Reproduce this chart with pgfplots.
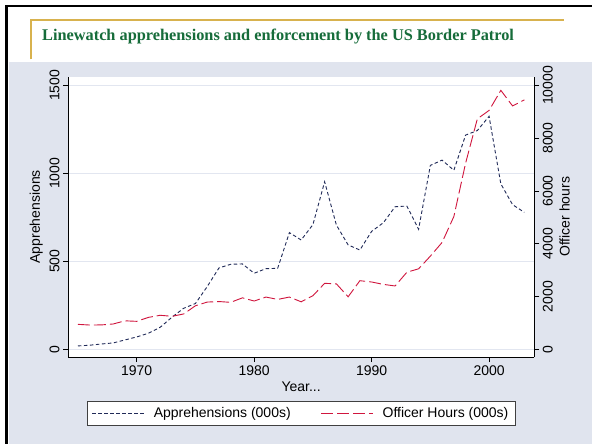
\documentclass[border=0pt]{standalone}
\usepackage{fontspec}
\setmainfont{Liberation Sans}
\newfontfamily\titlefont{Liberation Serif}
\usepackage{pgfplots}
\pgfplotsset{compat=1.18}

\definecolor{bgc}{RGB}{224,228,238}
\definecolor{gridc}{RGB}{226,230,240}
\definecolor{gold}{RGB}{216,178,78}
\definecolor{titlegreen}{RGB}{22,108,58}
\definecolor{navy}{RGB}{32,42,88}
\definecolor{crimson}{RGB}{208,22,62}

\newcommand{\axfont}{\fontsize{14bp}{16bp}\selectfont}

\pgfplotsset{
  twin/.style={
    at={(68bp,-357bp)}, anchor=south west,
    scale only axis, width=466.3bp, height=280.3bp,
    xmin=1964.15, xmax=2003.85,
    tick align=outside, major tick length=5bp,
    tick style={black, line width=0.8bp},
    axis line style={black, line width=0.8bp},
    ticklabel style={font=\axfont},
    label style={font=\axfont},
    scaled ticks=false,
    /pgf/number format/assume math mode=true,
    /pgf/number format/1000 sep={},
  },
}

\begin{document}
\begin{tikzpicture}
% slide frame and title
\path[use as bounding box] (0,0) rectangle (592bp,-444bp);
\fill[white] (0,0) rectangle (592bp,-444bp);
\fill[bgc] (9bp,-62.3bp) rectangle (592bp,-444bp);
\draw[black, line width=2bp] (5bp,-6bp) -- (592bp,-6bp);
\draw[black, line width=3bp] (6.5bp,-5bp) -- (6.5bp,-444bp);
\draw[gold, line width=1.2bp] (31bp,-59.3bp) -- (31bp,-20bp) -- (564bp,-20bp);
\node[anchor=base west, inner sep=0, text=titlegreen,
      font=\titlefont\bfseries\fontsize{16.3bp}{18bp}\selectfont]
  at (42bp,-40.7bp) {Linewatch apprehensions and enforcement by the US Border Patrol};

% left axis: apprehensions
\begin{axis}[twin,
  ymin=-44, ymax=1549,
  axis x line*=bottom, axis y line*=left,
  axis background/.style={fill=white},
  xtick={1970,1980,1990,2000},
  ytick={0,500,1000,1500},
  ymajorgrids, grid style={gridc, line width=0.9bp},
  yticklabel style={rotate=90, anchor=south},
  xlabel={Year...},
  ylabel={Apprehensions},
]
\addplot[navy, line width=0.9bp, dash pattern=on 3.5bp off 2.5bp] table {
x y
1965 19
1966 23
1967 30
1968 36
1969 53
1970 70
1971 91
1972 125
1973 182
1974 233
1975 260
1976 356
1977 462
1978 483
1979 485
1980 432
1981 458
1982 460
1983 663
1984 621
1985 708
1986 952
1987 706
1988 593
1989 564
1990 670
1991 719
1992 810
1993 814
1994 682
1995 1045
1996 1075
1997 1017
1998 1217
1999 1243
2000 1324
2001 940
2002 822
2003 778
};
\end{axis}

% right axis: officer hours
\begin{axis}[twin,
  ymin=-291, ymax=10327,
  axis x line=none, axis y line*=right,
  ytick={0,2000,4000,6000,8000,10000},
  yticklabel style={rotate=90, anchor=north},
  ylabel={Officer hours},
  legend style={at={(0.5,-0.157)}, anchor=north, legend columns=2,
    draw=black!75, line width=0.7bp, fill=white, font=\axfont,
    inner xsep=5bp, inner ysep=4bp,
    /tikz/every odd column/.append style={column sep=7bp},
    /tikz/every even column/.append style={column sep=28bp}},
  legend image code/.code={\draw[#1] (0bp,0bp) -- (52bp,0bp);},
]
\addlegendimage{navy, line width=0.9bp, dash pattern=on 3.5bp off 2.5bp}
\addlegendentry{Apprehensions (000s)}
\addplot[crimson, line width=0.9bp, dash pattern=on 12bp off 4bp] table {
x y
1965 946
1966 920
1967 925
1968 960
1969 1080
1970 1060
1971 1210
1972 1290
1973 1250
1974 1340
1975 1650
1976 1790
1977 1810
1978 1780
1979 1950
1980 1830
1981 1980
1982 1890
1983 1980
1984 1800
1985 2030
1986 2500
1987 2480
1988 1990
1989 2600
1990 2550
1991 2460
1992 2400
1993 2920
1994 3050
1995 3530
1996 4050
1997 5030
1998 7050
1999 8730
2000 9050
2001 9810
2002 9220
2003 9450
};
\addlegendentry{Officer Hours (000s)}
\end{axis}
\end{tikzpicture}
\end{document}
